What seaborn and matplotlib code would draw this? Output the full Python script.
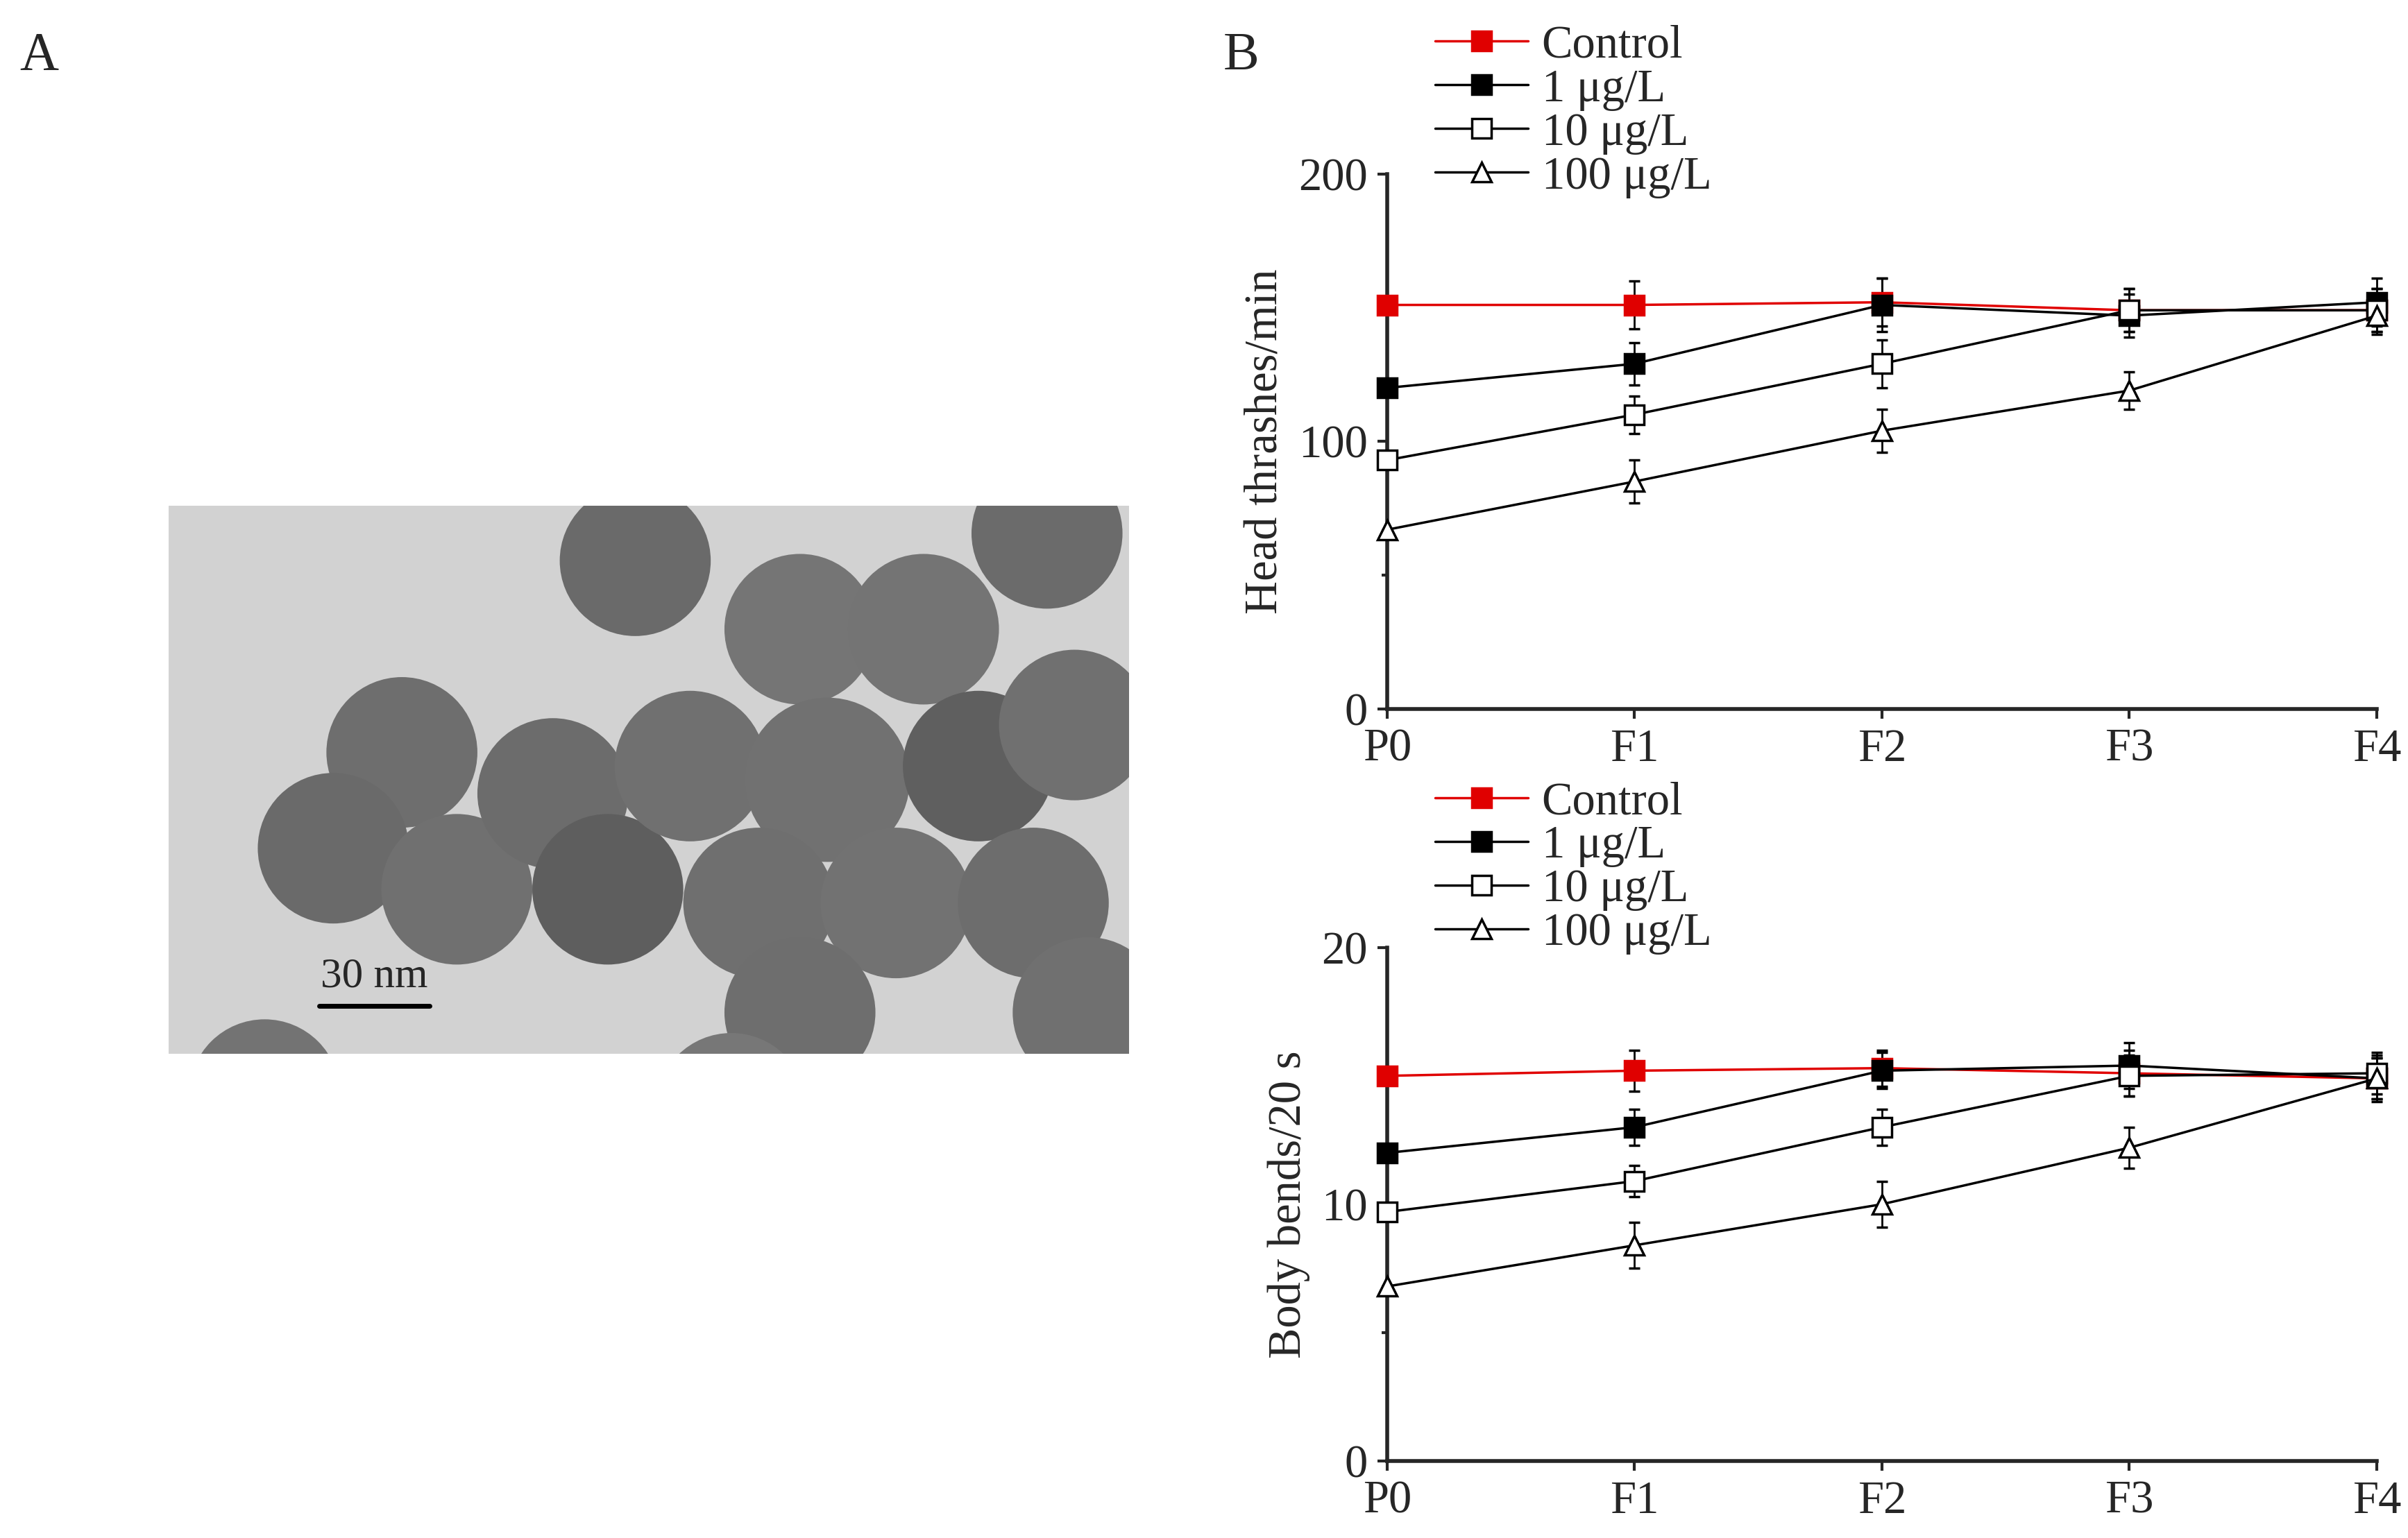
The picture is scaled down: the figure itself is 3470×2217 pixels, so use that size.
import matplotlib
matplotlib.use("Agg")
import matplotlib.pyplot as plt
import numpy as np
import seaborn as sns
from matplotlib.patches import Circle
from matplotlib.lines import Line2D

sns.set_style("ticks")
plt.rcParams["font.family"] = ["Liberation Serif", "DejaVu Serif"]

gens = ["P0", "F1", "F2", "F3", "F4"]
groups = ["Control", "1 μg/L", "10 μg/L", "100 μg/L"]

head = {
    "Control": [151, 151, 152, 149, 149],
    "1 μg/L": [120, 129, 151, 147, 152],
    "10 μg/L": [93, 110, 129, 149, 149],
    "100 μg/L": [67, 85, 104, 119, 147],
}
head_err = {
    "Control": [0, 9, 9, 8, 8],
    "1 μg/L": [0, 8, 10, 8, 9],
    "10 μg/L": [0, 7, 9, 8, 8],
    "100 μg/L": [0, 8, 8, 7, 7],
}
bends = {
    "Control": [15.0, 15.2, 15.3, 15.1, 14.9],
    "1 μg/L": [12.0, 13.0, 15.2, 15.4, 14.9],
    "10 μg/L": [9.7, 10.9, 13.0, 15.0, 15.1],
    "100 μg/L": [6.8, 8.4, 10.0, 12.2, 14.9],
}
bends_err = {
    "Control": [0, 0.8, 0.7, 0.9, 0.8],
    "1 μg/L": [0, 0.7, 0.7, 0.9, 0.9],
    "10 μg/L": [0, 0.6, 0.7, 0.8, 0.8],
    "100 μg/L": [0, 0.9, 0.9, 0.8, 0.8],
}

# TEM particles for panel A (x, y, r, grey)
particles = [(17, 18, 5.5, "#6e6e6e"), (12, 25, 5.5, "#6a6a6a"), (21, 28, 5.5, "#707070"),
             (28, 21, 5.5, "#6c6c6c"), (32, 28, 5.5, "#5e5e5e"), (38, 19, 5.5, "#707070"),
             (34, 4, 5.5, "#6a6a6a"), (46, 9, 5.5, "#757575"), (55, 9, 5.5, "#747474"),
             (48, 20, 6, "#717171"), (59, 19, 5.5, "#5f5f5f"), (66, 16, 5.5, "#707070"),
             (43, 29, 5.5, "#6f6f6f"), (53, 29, 5.5, "#727272"), (63, 29, 5.5, "#6d6d6d"),
             (46, 37, 5.5, "#6e6e6e"), (67, 37, 5.5, "#707070"), (7, 43, 5.5, "#737373"),
             (41, 44, 5.5, "#777777"), (64, 2, 5.5, "#6b6b6b")]

styles = {
    "Control": dict(color="#e00000", marker="s", mfc="#e00000", mec="#e00000"),
    "1 μg/L": dict(color="black", marker="s", mfc="black", mec="black"),
    "10 μg/L": dict(color="black", marker="s", mfc="white", mec="black"),
    "100 μg/L": dict(color="black", marker="^", mfc="white", mec="black"),
}

fig = plt.figure(figsize=(34.70, 22.17), dpi=100)
fs = 48


def draw(ax, vals, errs, ymax, ylabel, leg_y):
    x = np.arange(len(gens))
    handles = []
    for g in groups:
        st = styles[g]
        ax.errorbar(x, vals[g], yerr=errs[g], color=st["color"], marker=st["marker"],
                    mfc=st["mfc"], mec=st["mec"], ms=20, mew=2.5, lw=2.5,
                    ecolor="black", elinewidth=2, capsize=6, capthick=2,
                    clip_on=False, zorder=3)
        handles.append(Line2D([], [], color=st["color"], marker=st["marker"], mfc=st["mfc"],
                              mec=st["mec"], ms=20, mew=2.5, lw=2.5, label=g))
    ax.set_xlim(0, 4)
    ax.set_ylim(0, ymax)
    ax.set_xticks(x)
    ax.set_xticklabels(gens)
    ax.set_yticks([0, ymax / 2, ymax])
    ax.set_yticks([ymax / 4, ymax * 3 / 4], minor=True)
    ax.set_yticklabels([f"{int(v)}" for v in [0, ymax / 2, ymax]])
    ax.tick_params(labelsize=fs, width=3, length=10, direction="out", pad=10)
    ax.tick_params(which="minor", width=3, length=6)
    for s in ["left", "bottom"]:
        ax.spines[s].set_linewidth(4)
    sns.despine(ax=ax)
    ax.set_ylabel(ylabel, fontsize=fs, labelpad=12)
    ax.legend(handles=handles, loc="lower left", bbox_to_anchor=(0.03, leg_y), frameon=False,
              fontsize=fs, handlelength=2.0, handletextpad=0.3, labelspacing=0.03,
              borderaxespad=0)


ax1 = fig.add_axes([0.576, 0.539, 0.411, 0.348])
draw(ax1, head, head_err, 200, "Head thrashes/min", 0.92)
ax2 = fig.add_axes([0.576, 0.050, 0.411, 0.334])
draw(ax2, bends, bends_err, 20, "Body bends/20 s", 0.95)

# panel A: TEM-like image
axA = fig.add_axes([0.070, 0.315, 0.399, 0.356])
axA.set_facecolor("#d2d2d2")
for (cx, cy, r, c) in particles:
    axA.add_patch(Circle((cx, cy), r, color=c, lw=0))
axA.set_xlim(0, 70)
axA.set_ylim(40, 0)
axA.set_xticks([])
axA.set_yticks([])
for s in axA.spines.values():
    s.set_visible(False)
axA.plot([11, 19], [36.5, 36.5], color="black", lw=5)
axA.text(15, 35.8, "30 nm", ha="center", va="bottom", fontsize=44)

fig.text(0.008, 0.955, "A", fontsize=56)
fig.text(0.508, 0.955, "B", fontsize=56)

fig.savefig("out.png", dpi=100)
